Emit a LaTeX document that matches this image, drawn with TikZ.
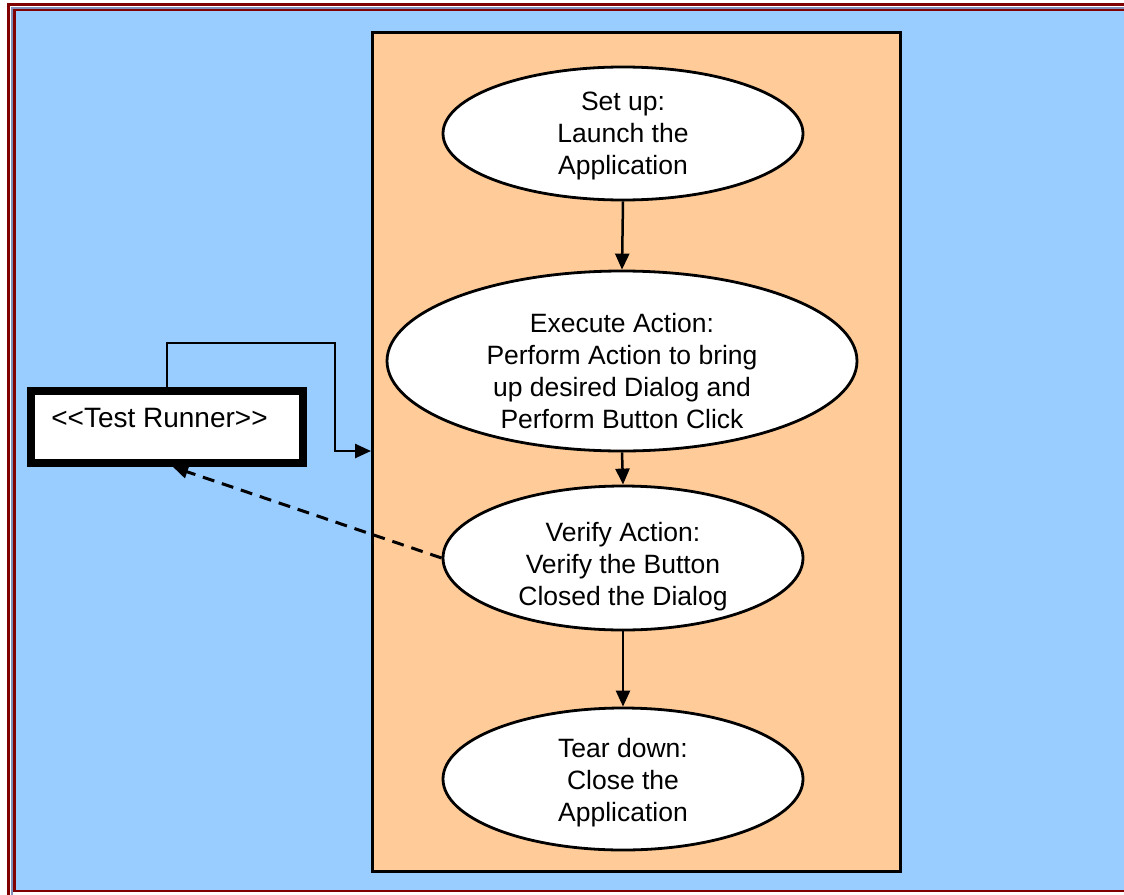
\documentclass[tikz,border=0pt]{standalone}
\usepackage{fontspec}
\setmainfont{Liberation Sans}
\usetikzlibrary{shapes.geometric,arrows.meta}
\definecolor{bgblue}{HTML}{99CCFF}
\definecolor{lanebg}{HTML}{FFCC99}
\definecolor{framered}{HTML}{800000}
\definecolor{frameline}{HTML}{8090B8}
\tikzset{
  oval/.style={ellipse, draw=black, line width=2.8pt, fill=white, inner sep=0pt},
  ovaltext/.style={align=center, font=\fontsize{26.5}{32}\selectfont},
  conn/.style={line width=2.5pt, -{Triangle[length=16pt,width=14pt]}},
  ret/.style={line width=3pt, dash pattern=on 12pt off 8pt, -{Triangle[length=15pt,width=13pt]}},
}
\begin{document}
\begin{tikzpicture}[x=1pt,y=-1pt]
\useasboundingbox (0,0) rectangle (1124,894);
\fill[white] (0,0) rectangle (1124,894);
% frame
\fill[bgblue] (14,10) rectangle (1124,891);
\draw[framered, line width=3pt] (8.5,900) -- (8.5,4.5) -- (1130,4.5);
\draw[frameline, line width=1.2pt] (12,900) -- (12,8) -- (1130,8);
\draw[framered, line width=2.5pt] (14.5,10) rectangle (1130,891);
% lane
\node[draw=black, fill=lanebg, line width=2.5pt, minimum width=528pt, minimum height=839pt, inner sep=0pt, anchor=north west] (lane) at (371,31) {};
% ellipses
\node[oval, minimum width=360pt, minimum height=133pt,
  label={[ovaltext, yshift=-2pt]center:Set up:\\Launch the\\Application}] (setup) at (623,133.5) {};
\node[oval, minimum width=470pt, minimum height=180pt,
  label={[ovaltext, yshift=-10pt]center:Execute Action:\\Perform Action to bring\\up desired Dialog and\\Perform Button Click}] (exec) at (622,361) {};
\node[oval, minimum width=360pt, minimum height=144pt,
  label={[ovaltext, yshift=-9pt]center:Verify Action:\\Verify the Button\\Closed the Dialog}] (verify) at (623,558) {};
\node[oval, minimum width=360pt, minimum height=142pt,
  label={[ovaltext, yshift=-4pt]center:Tear down:\\Close the\\Application}] (tear) at (623,779) {};
% test runner
\node[draw=black, line width=8pt, fill=white, minimum width=272pt, minimum height=72pt, inner sep=0pt,
  label={[font=\fontsize{28}{32}\selectfont, xshift=-7.5pt, yshift=9pt]center:<{}<Test Runner>{}>}] (tr) at (167,427) {};
% connectors
\draw[conn] (setup.south) -- (exec.north);
\draw[conn] (exec.south) -- (verify.north);
\draw[conn] (verify.south) -- (tear.south |- tear.north);
\coordinate (up) at (167,343);
\coordinate (turn) at (335,451);
\draw[conn] (tr.north -| up) |- (turn |- up) -- (turn) -- (turn -| lane.west);
\coordinate (rt) at (173,0);
\draw[ret] (verify.west) -- (tr.south -| rt);
\end{tikzpicture}
\end{document}
